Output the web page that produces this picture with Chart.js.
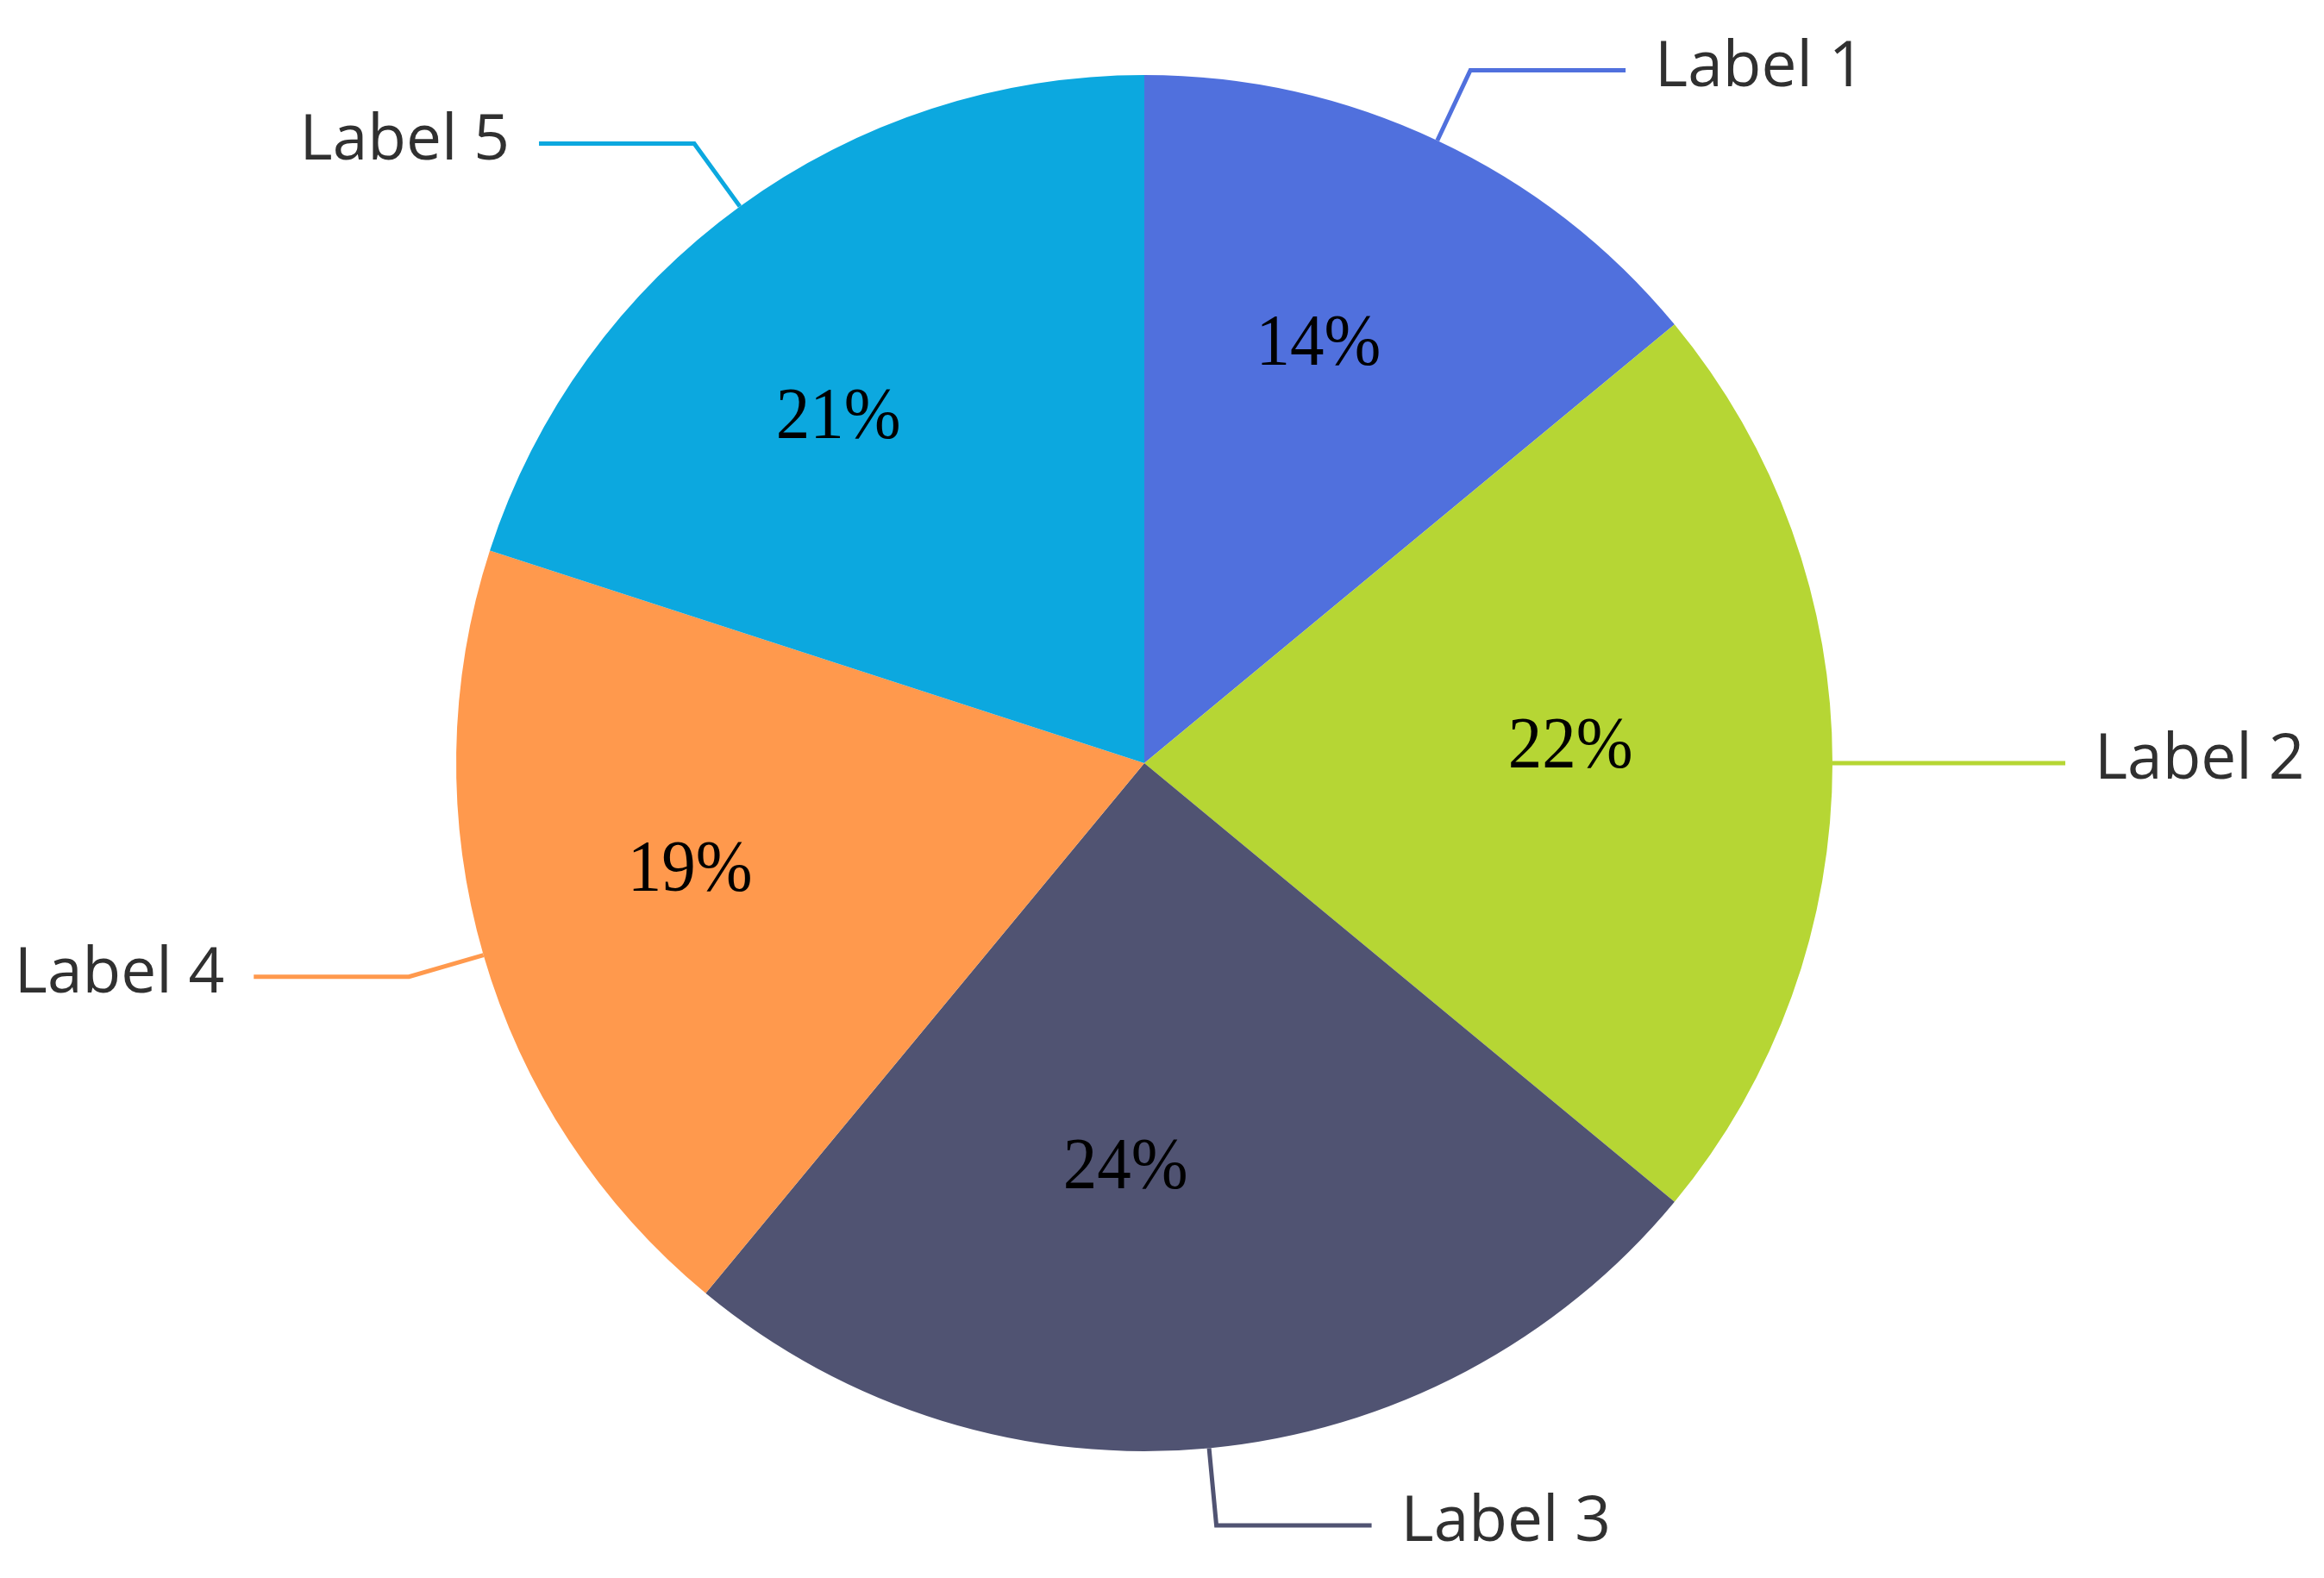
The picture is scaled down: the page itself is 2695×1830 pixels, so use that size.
<!DOCTYPE html>
<html><head><meta charset="utf-8">
<script src="https://cdn.jsdelivr.net/npm/chart.js@4.4.1/dist/chart.umd.min.js"></script>
<style>html,body{margin:0;padding:0;background:#fff;overflow:hidden}canvas{display:block}</style>
</head><body>
<canvas id="c" width="2695" height="1830"></canvas>
<script>
// ---- data ----
const categories = ['Label 1', 'Label 2', 'Label 3', 'Label 4', 'Label 5'];
const shares = [14, 22, 25, 19, 20];
const percentTexts = ['14%', '22%', '24%', '19%', '21%'];
const sliceColors = ['#5070dd', '#b6d634', '#505372', '#ff994d', '#0ca8df'];

const calloutPlugin = {
  id: 'callouts',
  afterDatasetsDraw(chart, args, opts) {
    const ctx = chart.ctx;
    const meta = chart.getDatasetMeta(0);
    ctx.save();
    meta.data.forEach((arc, i) => {
      const p = arc.getProps(['x', 'y', 'startAngle', 'endAngle', 'outerRadius'], true);
      const mid = (p.startAngle + p.endAngle) / 2;
      const c = Math.cos(mid), s = Math.sin(mid);
      const r = p.outerRadius;
      // leader line
      const x0 = p.x + c * r, y0 = p.y + s * r;
      const x1 = p.x + c * (r + opts.len1), y1 = p.y + s * (r + opts.len1);
      const dir = c >= 0 ? 1 : -1;
      const x2 = x1 + dir * opts.len2;
      ctx.beginPath();
      ctx.moveTo(x0, y0); ctx.lineTo(x1, y1); ctx.lineTo(x2, y1);
      ctx.strokeStyle = sliceColors[i];
      ctx.lineWidth = opts.lineWidth;
      ctx.lineJoin = 'miter';
      ctx.stroke();
      // category label
      ctx.font = opts.labelFont;
      ctx.fillStyle = opts.labelColor;
      ctx.textBaseline = 'alphabetic';
      ctx.textAlign = dir > 0 ? 'left' : 'right';
      ctx.fillText(categories[i], x2 + dir * opts.gap, y1 + opts.baselineShift);
      // percent label inside
      const pl = opts.pctPlacement[i];
      const a = mid + pl.dAngle * Math.PI / 180;
      const pr = r * pl.rFrac;
      const px = p.x + Math.cos(a) * pr, py = p.y + Math.sin(a) * pr;
      ctx.save();
      ctx.translate(px, py + opts.pctBaselineShift);
      ctx.scale(opts.pctSquash, 1);
      ctx.font = opts.pctFont;
      ctx.fillStyle = '#000';
      ctx.textAlign = 'center';
      ctx.fillText(percentTexts[i], 0, 0);
      ctx.restore();
    });
    ctx.restore();
  }
};

new Chart(document.getElementById('c'), {
  type: 'pie',
  data: {
    labels: categories,
    datasets: [{
      data: shares,
      backgroundColor: sliceColors,
      borderWidth: 0,
      hoverOffset: 0
    }]
  },
  options: {
    responsive: false,
    devicePixelRatio: 1,
    animation: false,
    rotation: 0,
    layout: { padding: { top: 87, bottom: 147, left: 0, right: 41 } },
    plugins: {
      legend: { display: false },
      tooltip: { enabled: false },
      callouts: {
        len1: 90, len2: 180, lineWidth: 5, gap: 34,
        labelFont: '73px "Open Sans"', labelColor: '#303030', baselineShift: 18,
        pctFont: '84px "Liberation Serif"', pctBaselineShift: 28, pctSquash: 0.94,
        pctPlacement: [
          { dAngle: -2.8, rFrac: 0.664 },
          { dAngle: -2.7, rFrac: 0.620 },
          { dAngle: 8.1, rFrac: 0.583 },
          { dAngle: 3.4, rFrac: 0.677 },
          { dAngle: -5.2, rFrac: 0.675 }
        ]
      }
    }
  },
  plugins: [calloutPlugin]
});
</script>
</body></html>
